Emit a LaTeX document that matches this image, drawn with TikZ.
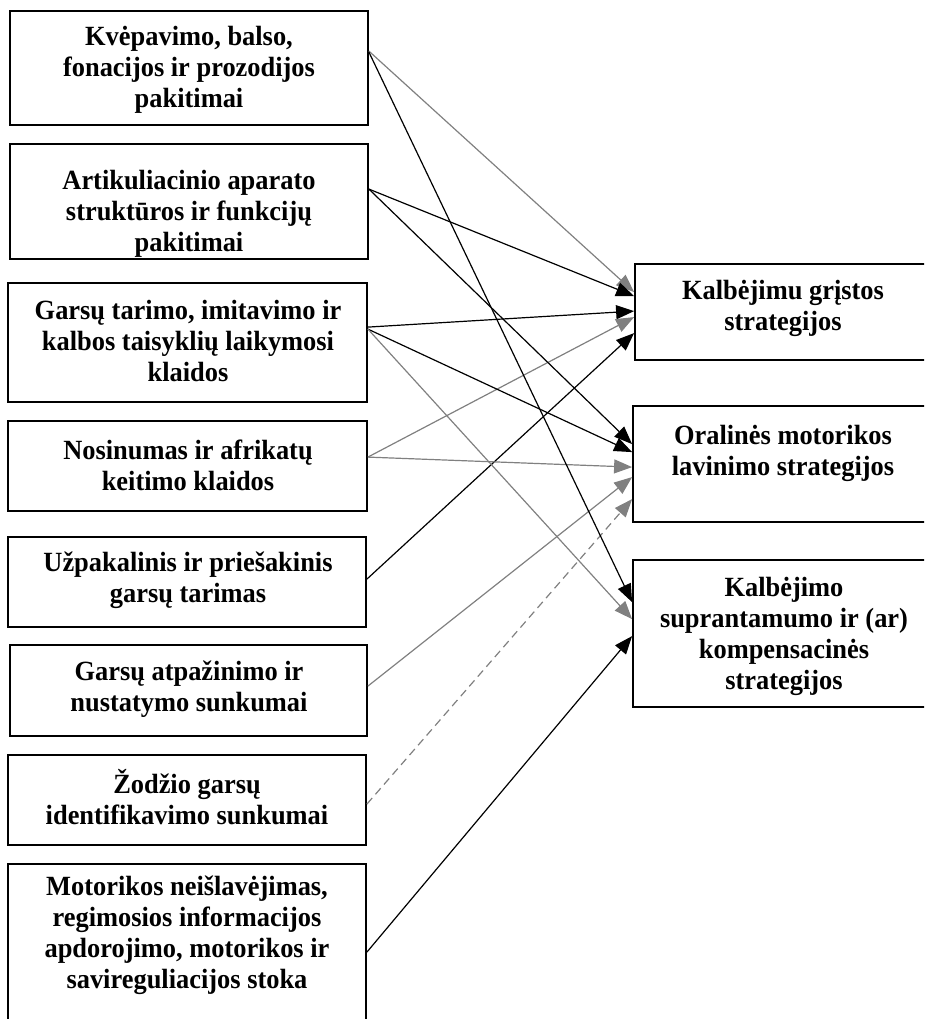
\documentclass[tikz,border=0pt]{standalone}
\usepackage{fontspec}
\setmainfont[FakeStretch=0.95]{Liberation Serif}
\usetikzlibrary{arrows.meta,calc}

\definecolor{lgrey}{HTML}{808080}
\tikzset{
  box/.style={draw, line width=1.8pt, inner sep=0pt},
  label text/.style={font=\bfseries\fontsize{27.8}{31}\selectfont, align=center,
    inner sep=0pt},
  link/.style={line width=1.2pt, -{Triangle[length=18pt,width=14pt]}},
  solidlink/.style={link, draw=black},
  greylink/.style={link, draw=lgrey},
  dashlink/.style={link, draw=lgrey, dash pattern=on 8pt off 5pt}
}

\begin{document}
\begin{tikzpicture}[x=1pt,y=-1pt]
\useasboundingbox (0,0) rectangle (924,1019);
\clip (0,0) rectangle (924,1019);

% causes (left column)
\node[box, minimum width=358pt, minimum height=114pt] (b1) at (189,68) {};
\node[box, minimum width=358pt, minimum height=115pt] (b2) at (189,201.5) {};
\node[box, minimum width=359pt, minimum height=119pt] (b3) at (187.5,342.5) {};
\node[box, minimum width=359pt, minimum height=90pt]  (b4) at (187.5,466) {};
\node[box, minimum width=358pt, minimum height=90pt]  (b5) at (187,582) {};
\node[box, minimum width=357pt, minimum height=91pt]  (b6) at (188.5,690.5) {};
\node[box, minimum width=358pt, minimum height=90pt]  (b7) at (187,800) {};
\node[box, minimum width=358pt, minimum height=176pt] (b8) at (187,952) {};

\node[label text] (t1) at (189,70)    {Kvėpavimo, balso,\\fonacijos ir prozodijos\\pakitimai};
\node[label text] (t2) at (189,214)   {Artikuliacinio aparato\\struktūros ir funkcijų\\pakitimai};
\node[label text] (t3) at (188,341)   {Garsų tarimo, imitavimo ir\\kalbos taisyklių laikymosi\\klaidos};
\node[label text] (t4) at (188,465)   {Nosinumas ir afrikatų\\keitimo klaidos};
\node[label text] (t5) at (188,580)   {Užpakalinis ir priešakinis\\garsų tarimas};
\node[label text] (t6) at (189,689)   {Garsų atpažinimo ir\\nustatymo sunkumai};
\node[label text] (t7) at (187,797.5) {Žodžio garsų\\identifikavimo sunkumai};
\node[label text] (t8) at (187,935.5) {Motorikos neišlavėjimas,\\regimosios informacijos\\apdorojimo, motorikos ir\\savireguliacijos stoka};

% strategies (right column)
\node[box, minimum width=297pt, minimum height=96pt]  (r1) at (783.5,312) {};
\node[box, minimum width=299pt, minimum height=116pt] (r2) at (782.5,464) {};
\node[box, minimum width=299pt, minimum height=147pt] (r3) at (782.5,633.5) {};

\node[label text] (s1) at (783,308)   {Kalbėjimu grįstos\\strategijos};
\node[label text] (s2) at (783,453.5) {Oralinės motorikos\\lavinimo strategijos};
\node[label text] (s3) at (784,636)   {Kalbėjimo\\suprantamumo ir (ar)\\kompensacinės\\strategijos};

% links to the first strategy group
\draw[greylink]  ($(b1.north east)+(0,41)$) -- ($(r1.north west)+(0,29)$);
\draw[solidlink] ($(b2.north east)+(0,46)$) -- ($(r1.north west)+(0,33)$);
\draw[solidlink] ($(b3.north east)+(0,45)$) -- ($(r1.north west)+(0,48)$);
\draw[greylink]  ($(b4.north east)+(0,37)$) -- ($(r1.north west)+(0,54)$);
\draw[solidlink] ($(b5.north east)+(0,43)$) -- ($(r1.north west)+(0,70)$);

% links to the second strategy group
\draw[solidlink] ($(b2.north east)+(0,46)$) -- ($(r2.north west)+(0,39)$);
\draw[solidlink] ($(b3.north east)+(0,47)$) -- ($(r2.north west)+(0,47)$);
\draw[greylink]  ($(b4.north east)+(0,37)$) -- ($(r2.north west)+(0,62)$);
\draw[greylink]  ($(b6.north east)+(0,42)$) -- ($(r2.north west)+(0,72)$);
\draw[dashlink]  ($(b7.north east)+(0,50)$) -- ($(r2.north west)+(0,94)$);

% links to the third strategy group
\draw[solidlink] ($(b1.north east)+(0,42)$) -- ($(r3.north west)+(0,43)$);
\draw[greylink]  ($(b3.north east)+(0,47)$) -- ($(r3.north west)+(0,60)$);
\draw[solidlink] ($(b8.north east)+(0,89)$) -- ($(r3.north west)+(0,77)$);
\end{tikzpicture}
\end{document}
